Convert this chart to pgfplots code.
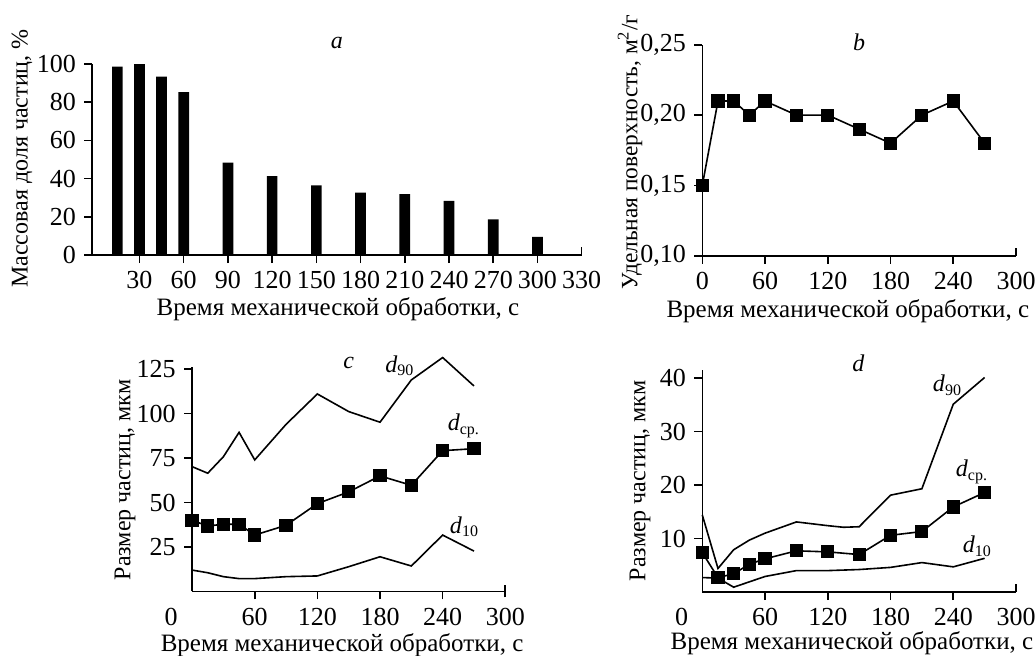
\documentclass[border=0pt]{standalone}
\usepackage{fontspec}
\setmainfont{Liberation Serif}
\usepackage{pgfplots}
\pgfplotsset{compat=1.18}

\newcommand\tfont{\fontsize{13}{15}\selectfont}
\newcommand\lfont{\fontsize{12}{14}\selectfont}
\newcommand\xfont{\fontsize{12.5}{14}\selectfont}

\pgfplotsset{
  panel/.style={
    scale only axis,
    anchor=south west,
    axis lines=left,
    axis line style={-, line width=0.8pt},
    every tick/.style={black, line width=0.8pt},
    tick align=outside,
    major tick length=4pt,
    tick label style={font=\tfont},
    ylabel style={font=\lfont},
    xlabel style={font=\xfont},
    /pgf/number format/assume math mode=true,
    clip=false,
  },
  endtick/.style={extra x tick style={tick align=inside,
    xticklabel style={yshift=-4pt}}},
  ln/.style={black, line width=0.8pt, no marks},
  mk/.style={black, line width=0.8pt, mark=square*, mark size=2.9pt},
}

\begin{document}
\lfont
\begin{tikzpicture}
\path[use as bounding box] (0,0) rectangle (517.5pt,327.5pt);

% a
\begin{axis}[panel, endtick,
  at={(46.15pt,200pt)}, width=244.7pt, height=95.5pt,
  xmin=-2, xmax=330, ymin=0, ymax=100,
  xtick={30,60,...,300}, extra x ticks={330},
  ytick={0,20,...,100},
  xlabel={Время механической обработки, с},
  ylabel={Массовая доля частиц, \%},
  xlabel style={at={(axis description cs:0.502,-0.283)}, anchor=center},
  ylabel style={at={(axis description cs:-0.1436,0.505)}, anchor=center},
]
\addplot[ybar, fill=black, draw=none, bar width=7.25] coordinates {
  (15,98.6) (30,100) (45,93.4) (60,85.3) (90,48.4) (120,41.3) (150,36.5)
  (180,32.6) (210,31.9) (240,28.3) (270,18.6) (300,9.5)
};
\node at (axis cs:164,111) {\textit{a}};
\end{axis}

% b
\begin{axis}[panel, endtick,
  at={(351.15pt,199.65pt)}, width=156.85pt, height=105.45pt,
  xmin=0, xmax=300, ymin=0.10, ymax=0.25,
  xtick={0,60,...,240}, extra x ticks={300},
  ytick={0.10,0.15,0.20,0.25},
  yticklabel style={/pgf/number format/.cd, fixed, fixed zerofill, precision=2, use comma},
  xlabel={Время механической обработки, с},
  ylabel={Удельная поверхность, м\textsuperscript{2}/г},
  xlabel style={at={(axis description cs:0.464,-0.2655)}, anchor=center},
  ylabel style={at={(axis description cs:-0.2305,0.492)}, anchor=center,
    font=\fontsize{11.7}{14}\selectfont},
]
\addplot[mk] coordinates {
  (0,0.15) (15,0.21) (30,0.21) (45,0.20) (60,0.21) (90,0.20) (120,0.20)
  (150,0.19) (180,0.18) (210,0.20) (240,0.21) (270,0.18)
};
\node at (axis cs:150,0.252) {\textit{b}};
\end{axis}

% c
\begin{axis}[panel,
  at={(96.05pt,31.8pt)}, width=156.6pt, height=112.4pt,
  xmin=0, xmax=300, ymin=0, ymax=126.5,
  xtick={60,120,...,240}, extra x ticks={300},
  extra x tick style={tick align=center, major tick length=6pt,
    xticklabel style={yshift=-1pt}},
  ytick={25,50,...,125},
  xlabel={Время механической обработки, с},
  ylabel={Размер частиц, мкм},
  xlabel style={at={(axis description cs:0.479,-0.2385)}, anchor=center},
  ylabel style={at={(axis description cs:-0.214,0.496)}, anchor=center},
]
\addplot[ln] coordinates {
  (0,70.2) (15,66.5) (30,75.8) (45,89.5) (60,74.0) (90,94.0) (120,111.1)
  (150,101.2) (180,95.2) (210,119.0) (240,131.6) (270,115.6)
};
\addplot[mk] coordinates {
  (0,40.0) (15,36.8) (30,37.8) (45,37.8) (60,31.7) (90,37.2) (120,49.4)
  (150,56.0) (180,65.0) (210,59.7) (240,79.2) (270,80.3)
};
\addplot[ln] coordinates {
  (0,12.0) (15,10.5) (30,8.3) (45,7.2) (60,7.2) (90,8.3) (120,8.7)
  (150,13.9) (180,19.5) (210,14.3) (240,31.7) (270,22.7)
};
\node[font=\tfont, anchor=north, yshift=-4pt] at (axis cs:-20,0) {0};
\node at (axis cs:150,128.4) {\textit{c}};
\node at (axis cs:199,127) {\textit{d}\textsubscript{90}};
\node at (axis cs:260.3,93.3) {\textit{d}\textsubscript{ср.}};
\node at (axis cs:260.9,36.4) {\textit{d}\textsubscript{10}};
\end{axis}

% d
\begin{axis}[panel, endtick,
  at={(351.15pt,31.5pt)}, width=156.85pt, height=111pt,
  xmin=0, xmax=300, ymin=0, ymax=41.5,
  xtick={60,120,...,240}, extra x ticks={300},
  ytick={10,20,30,40},
  xlabel={Время механической обработки, с},
  ylabel={Размер частиц, мкм},
  xlabel style={at={(axis description cs:0.477,-0.231)}, anchor=center},
  ylabel style={at={(axis description cs:-0.1986,0.501)}, anchor=center},
]
\addplot[ln] coordinates {
  (0,14.4) (15,4.4) (30,7.9) (45,9.7) (60,11.0) (90,13.1) (120,12.4)
  (135,12.1) (150,12.2) (180,18.1) (210,19.3) (240,35.1) (270,40.1)
};
\addplot[ln] coordinates {
  (0,2.7) (15,2.6) (30,0.9) (45,1.9) (60,2.9) (90,4.0) (120,4.0)
  (150,4.2) (180,4.6) (210,5.5) (240,4.7) (270,6.3)
};
\addplot[mk] coordinates {
  (0,7.35) (15,2.7) (30,3.4) (45,5.2) (60,6.2) (90,7.7) (120,7.5)
  (150,7.0) (180,10.6) (210,11.3) (240,15.9) (270,18.6)
};
\node[font=\tfont, anchor=north, yshift=-4pt] at (axis cs:-19.7,0) {0};
\node at (axis cs:149.4,42.7) {\textit{d}};
\node at (axis cs:234.5,38.7) {\textit{d}\textsubscript{90}};
\node at (axis cs:257.9,22.4) {\textit{d}\textsubscript{ср.}};
\node at (axis cs:263.1,8.6) {\textit{d}\textsubscript{10}};
\end{axis}
\end{tikzpicture}
\end{document}
